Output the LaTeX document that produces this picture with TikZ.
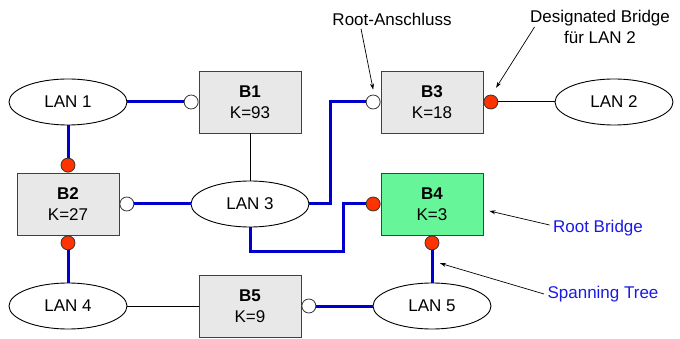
\documentclass[tikz,border=0pt]{standalone}
\usepackage{fontspec}
\setmainfont{Liberation Sans}
\usetikzlibrary{shapes.geometric,arrows.meta}
\definecolor{bridgegrey}{RGB}{232,232,232}
\definecolor{rootgreen}{RGB}{102,245,153}
\definecolor{treeblue}{RGB}{0,0,204}
\definecolor{noteblue}{RGB}{26,26,230}
\definecolor{portred}{RGB}{255,51,0}
\begin{document}
\begin{tikzpicture}[x=1pt, y=-1pt, font=\fontsize{17}{21}\selectfont,
bridge/.style={draw=black!75, fill=bridgegrey, line width=0.9pt, minimum width=102pt, minimum height=62pt, align=center, inner sep=0pt},
lan/.style={ellipse, draw, line width=0.9pt, minimum width=118pt, minimum height=46pt, inner sep=0pt, fill=white},
rport/.style={circle, draw=black!80, fill=portred, line width=0.8pt, minimum size=14pt, inner sep=0pt},
wport/.style={circle, draw=black!80, fill=white, line width=0.8pt, minimum size=14pt, inner sep=0pt},
tree/.style={treeblue, line width=3pt},
link/.style={black, line width=1pt},
note/.style={-{Stealth[length=6pt,width=4pt]}, line width=0.7pt}]
\useasboundingbox (0,0) rectangle (680,339);
\node[lan] (lan1) at (68,102){LAN 1};
\node[lan] (lan2) at (614,102){LAN 2};
\node[lan] (lan3) at (250,204){LAN 3};
\node[lan] (lan4) at (68,306){LAN 4};
\node[lan] (lan5) at (432,306){LAN 5};
\node[bridge] (b1) at (250,102){\textbf{B1}\\K=93};
\node[bridge] (b2) at (68,204){\textbf{B2}\\K=27};
\node[bridge] (b3) at (432,102){\textbf{B3}\\K=18};
\node[bridge, fill=rootgreen] (b4) at (432,204){\textbf{B4}\\K=3};
\node[bridge] (b5) at (250,306){\textbf{B5}\\K=9};
\node[wport, anchor=east] (b1w) at (b1.west){};
\node[rport, anchor=south] (b2n) at (b2.north){};
\node[wport, anchor=west] (b2e) at (b2.east){};
\node[rport, anchor=north] (b2s) at (b2.south){};
\node[wport, anchor=east] (b3w) at (b3.west){};
\node[rport, anchor=west] (b3e) at (b3.east){};
\node[rport, anchor=east] (b4w) at (b4.west){};
\node[rport, anchor=north] (b4s) at (b4.south){};
\node[wport, anchor=west] (b5e) at (b5.east){};
\coordinate (bend) at (343,251);
\draw[tree](lan1) -- (b1w);
\draw[tree](lan1) -- (b2n);
\draw[tree](b2e) -- (lan3);
\draw[tree](b2s) -- (lan4);
\draw[tree](lan3.east) -- ++(21,0) |- (b3w);
\draw[tree](lan3.south) |- (bend) |- (b4w);
\draw[tree](b4s) -- (lan5);
\draw[tree](b5e) -- (lan5);
\draw[link](b1) -- (lan3);
\draw[link](b3e) -- (lan2);
\draw[link](lan4) -- (b5);
\node (rootport) at (392,19){Root-Anschluss};
\node[align=center] (desig) at (600,27){Designated Bridge\\für LAN 2};
\node[text=noteblue] (rootbr) at (598,228){Root Bridge};
\node[text=noteblue] (spantree) at (603,294){Spanning Tree};
\draw[note]([xshift=-31pt]rootport.south) -- ([yshift=5pt]b3w.north);
\draw[note]([xshift=8pt]desig.west) -- ([yshift=9pt]b3e.north east);
\draw[note]([yshift=3pt]rootbr.west) -- ([xshift=6pt,yshift=-7pt]b4.east);
\draw[note](spantree.west) -- ([xshift=8pt,yshift=-13pt]b4s.south);
\end{tikzpicture}
\end{document}
